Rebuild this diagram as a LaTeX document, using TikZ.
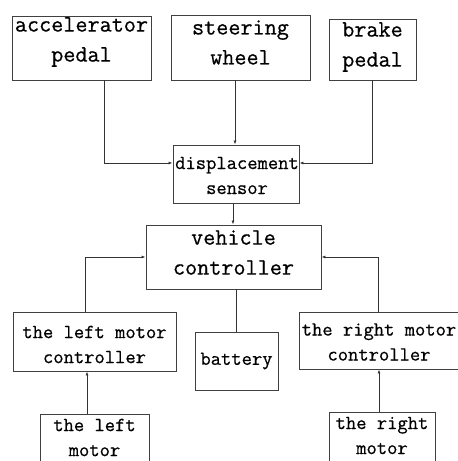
\documentclass[tikz,border=0pt]{standalone}
\usepackage{fontspec}
\newfontfamily\reffont{Latin Modern Mono}[FakeBold=0.6,BoldFont=Latin Modern Mono]
\usetikzlibrary{arrows.meta}
\begin{document}
\begin{tikzpicture}[x=1pt,y=-1pt,
  box/.style={draw=black!75,line width=0.9pt,rectangle,inner sep=0pt},
  bigt/.style={inner sep=0pt,align=center,font=\reffont\bfseries\fontsize{23.5}{30}\selectfont},
  smallt/.style={inner sep=0pt,align=center,font=\reffont\bfseries\fontsize{20}{25}\selectfont},
  arr/.style={draw=black!80,line width=0.8pt,-{Latex[length=4pt,width=3pt]}},
  ln/.style={draw=black!80,line width=0.8pt}]
\useasboundingbox (0,0) rectangle (458,461);
\clip (0,0) rectangle (458,461);
% boxes
\node[box,minimum width=139pt,minimum height=64pt] (acc) at (81.5,48) {};
\node[box,minimum width=139pt,minimum height=65pt] (steer) at (240.5,47.5) {};
\node[box,minimum width=87pt,minimum height=61pt] (brake) at (372.5,49.5) {};
\node[box,minimum width=126pt,minimum height=58pt] (disp) at (236,174) {};
\node[box,minimum width=175pt,minimum height=64pt] (vc) at (233.5,257) {};
\node[box,minimum width=163pt,minimum height=59pt] (lmc) at (94.5,341.5) {};
\node[box,minimum width=83pt,minimum height=58pt] (bat) at (236.5,361) {};
\node[box,minimum width=163pt,minimum height=57pt] (rmc) at (380.5,340.5) {};
\node[box,minimum width=109pt,minimum height=62pt] (lm) at (94.5,445) {};
\node[box,minimum width=106pt,minimum height=62pt] (rm) at (382,443) {};
% texts
\node[bigt] (accT) at (81.5,42) {accelerator\\pedal};
\node[bigt] (steerT) at (240.5,42.5) {steering\\wheel};
\node[bigt] (brakeT) at (372.5,47) {brake\\pedal};
\node[smallt] (dispT) at (237,175.5) {displacement\\sensor};
\node[bigt] (vcT) at (233.5,252.5) {vehicle\\controller};
\node[smallt] (lmcT) at (94.5,344.5) {the left motor\\controller};
\node[smallt] (batT) at (236.5,361) {battery};
\node[smallt] (rmcT) at (379,342) {the right motor\\controller};
\node[smallt] (lmT) at (94.5,437.5) {the left\\motor};
\node[smallt] (rmT) at (382,435.5) {the right\\motor};
% connectors
\draw[arr] ([xshift=22.5pt]acc.south) |- ([yshift=11pt]disp.west);
\draw[arr] ([xshift=-5.5pt]steer.south) -- ([xshift=-1pt]disp.north);
\draw[arr] (brake.south) |- ([yshift=11pt]disp.east);
\draw[arr] ([xshift=-3pt]disp.south) -- ([xshift=-3pt]disp.south |- vc.north);
\draw[arr] ([xshift=-9.5pt]lmc.north) |- (vc.west);
\draw[arr] ([xshift=-2.5pt]rmc.north) |- (vc.east);
\draw[ln] (bat.north) -- (bat.north |- vc.south);
\draw[arr] ([xshift=-7.5pt]lm.north) -- ([xshift=-7.5pt]lm.north |- lmc.south);
\draw[arr] ([xshift=-3pt]rm.north) -- ([xshift=-3pt]rm.north |- rmc.south);
\end{tikzpicture}
\end{document}
